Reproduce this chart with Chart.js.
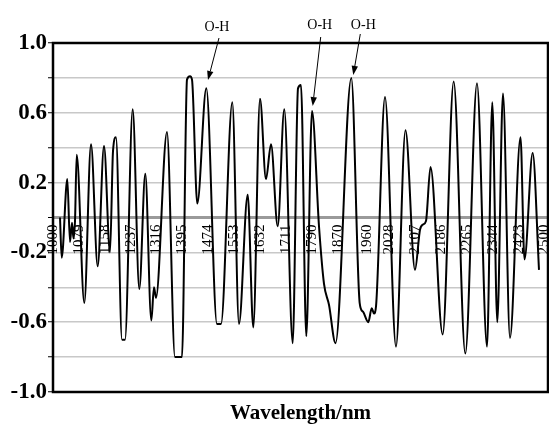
<!DOCTYPE html>
<html>
<head>
<meta charset="utf-8">
<script src="https://cdn.jsdelivr.net/npm/chart.js@4.4.0/dist/chart.umd.min.js"></script>
<style>
  html, body { margin: 0; padding: 0; background: #fff; }
  #wrap { width: 549px; height: 432px; }
</style>
</head>
<body>
<div id="wrap"><canvas id="c" width="549" height="432"></canvas></div>
<script>
// ---- data ----
const wavelength = [1021.4, 1026.6, 1043.7, 1051.9, 1058.0, 1062.6, 1067.2, 1072.4, 1095.6, 1116.1,
  1136.5, 1155.8, 1174.1, 1183.3, 1192.4, 1210.8, 1219.9, 1243.4, 1263.6, 1281.9,
  1300.3, 1308.5, 1314.6, 1348.2, 1372.6, 1394.0, 1409.3, 1418.5, 1424.6, 1440.8,
  1468.3, 1500.9, 1513.2, 1547.7, 1568.1, 1594.7, 1611.8, 1632.3, 1650.6, 1665.9,
  1686.3, 1706.5, 1732.2, 1748.4, 1757.5, 1773.7, 1791.1, 1812.5, 1827.8, 1843.0,
  1862.9, 1911.2, 1936.8, 1946.9, 1963.1, 1973.5, 1980.5, 1986.6, 2014.1, 2047.7,
  2076.7, 2105.7, 2121.0, 2130.2, 2139.3, 2153.1, 2190.3, 2223.9, 2259.4, 2295.1,
  2325.7, 2341.8, 2357.1, 2374.5, 2395.9, 2428.0, 2440.2, 2465.2, 2484.5];
const absorbance = [0.00, -0.23, 0.22, -0.14, -0.03, -0.12, -0.02, 0.36, -0.49, 0.42,
  -0.28, 0.41, -0.20, 0.38, 0.46, -0.70, -0.70, 0.62, -0.41, 0.25,
  -0.59, -0.40, -0.46, 0.49, -0.80, -0.80, 0.79, 0.81, 0.79, 0.08,
  0.74, -0.61, -0.61, 0.66, -0.61, 0.13, -0.63, 0.68, 0.22, 0.42,
  -0.05, 0.62, -0.72, 0.74, 0.76, -0.68, 0.61, -0.05, -0.38, -0.50,
  -0.72, 0.80, -0.49, -0.54, -0.60, -0.52, -0.55, -0.51, 0.69, -0.74,
  0.50, -0.30, -0.07, -0.04, -0.02, 0.29, -0.67, 0.78, -0.78, 0.77,
  -0.74, 0.66, -0.60, 0.71, -0.69, 0.46, -0.24, 0.37, -0.30];
const xTickLabels = ['1000', '1079', '1158', '1237', '1316', '1395', '1474', '1553', '1632', '1711',
  '1790', '1870', '1960', '2028', '2107', '2186', '2265', '2344', '2423', '2500'];
const annotationWavelengths = [1473.4, 1793.3, 1917.3];
const annotationValues = [0.788, 0.639, 0.817];
const annotationLabels = ['O-H', 'O-H', 'O-H'];
const xTitle = 'Wavelength/nm';

// ---- chart ----
const points = wavelength.map((w, i) => ({ x: w, y: absorbance[i] }));
const isZero = v => Math.abs(v) < 1e-9;

const framePlugin = {
  id: 'frame',
  afterDatasetsDraw(chart) {
    const { ctx, chartArea: a } = chart;
    ctx.save();
    ctx.strokeStyle = '#000';
    ctx.lineWidth = 2.5;
    ctx.strokeRect(a.left, a.top, a.right - a.left, a.bottom - a.top);
    ctx.restore();
  }
};

const annotationPlugin = {
  id: 'ohLabels',
  afterDraw(chart) {
    const { ctx } = chart;
    const xs = chart.scales.x, ys = chart.scales.y;
    const textDx = [9, 7, 10];
    const textY = [27, 25, 25];
    const lineDx = [11, 8, 7];
    const lineY = [38, 37, 34];
    ctx.save();
    ctx.fillStyle = '#000';
    ctx.strokeStyle = '#000';
    ctx.font = '14px "Liberation Serif"';
    ctx.textAlign = 'center';
    ctx.textBaseline = 'middle';
    annotationWavelengths.forEach((w, i) => {
      const tx = xs.getPixelForValue(w);
      const ty = ys.getPixelForValue(annotationValues[i]);
      ctx.fillText(annotationLabels[i], tx + textDx[i], textY[i]);
      const sx = tx + lineDx[i], sy = lineY[i];
      const ang = Math.atan2(ty - sy, tx - sx);
      const len = 9, half = 3.2;
      const bx = tx - len * Math.cos(ang), by = ty - len * Math.sin(ang);
      ctx.lineWidth = 1;
      ctx.beginPath();
      ctx.moveTo(sx, sy);
      ctx.lineTo(bx, by);
      ctx.stroke();
      ctx.beginPath();
      ctx.moveTo(tx, ty);
      ctx.lineTo(bx + half * Math.sin(ang), by - half * Math.cos(ang));
      ctx.lineTo(bx - half * Math.sin(ang), by + half * Math.cos(ang));
      ctx.closePath();
      ctx.fill();
    });
    ctx.restore();
  }
};

new Chart(document.getElementById('c'), {
  type: 'line',
  data: {
    datasets: [{
      data: points,
      borderColor: '#000',
      borderWidth: 2,
      pointRadius: 0,
      fill: false,
      cubicInterpolationMode: 'monotone'
    }]
  },
  options: {
    responsive: false,
    animation: false,
    layout: { padding: { top: 43, right: 1, left: 0, bottom: 0 } },
    plugins: { legend: { display: false }, tooltip: { enabled: false } },
    scales: {
      x: {
        type: 'linear',
        min: 1000,
        max: 2512,
        position: { y: 0 },
        afterBuildTicks: s => { s.ticks = xTickLabels.map(t => ({ value: Number(t) })); },
        afterFit: s => { s.paddingLeft = 0; s.paddingRight = 0; s.paddingTop = 0; s.paddingBottom = 0; },
        ticks: {
          autoSkip: false,
          minRotation: 90,
          maxRotation: 90,
          padding: 7,
          color: '#000',
          font: { family: 'Liberation Serif', size: 15 },
          callback: v => xTickLabels.find(t => Number(t) === v) || ''
        },
        grid: { display: false, drawTicks: false },
        border: { display: false }
      },
      xTitleAxis: {
        type: 'linear',
        position: 'bottom',
        ticks: { display: false },
        grid: { display: false, drawTicks: false },
        border: { display: false },
        title: {
          display: true,
          text: xTitle,
          color: '#000',
          font: { family: 'Liberation Serif', size: 21, weight: 'bold' },
          padding: { top: 0, bottom: 6 }
        },
        afterFit: s => { s.height = 40; s.paddingLeft = 0; s.paddingRight = 0; }
      },
      y: {
        min: -1,
        max: 1,
        ticks: {
          stepSize: 0.2,
          autoSkip: false,
          padding: 1,
          color: '#000',
          font: { family: 'Liberation Serif', size: 23, weight: 'bold' },
          callback: v => (Math.round((v + 1) / 0.2) % 2 === 0 ? v.toFixed(1) : '')
        },
        grid: {
          color: c => (c.tick && isZero(c.tick.value) ? '#9a9a9a' : '#c8c8c8'),
          lineWidth: c => (c.tick && isZero(c.tick.value) ? 3 : 1.5),
          tickColor: '#000',
          tickLength: 5,
          tickWidth: 1
        },
        border: { display: false },
        afterFit: s => { s.width = 53; }
      }
    }
  },
  plugins: [framePlugin, annotationPlugin]
});
</script>
</body>
</html>
